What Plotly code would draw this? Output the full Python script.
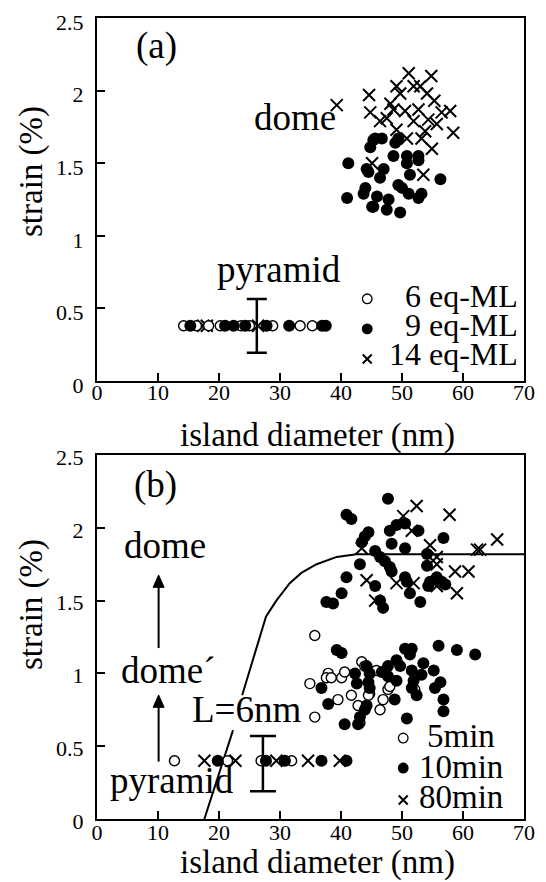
import plotly.graph_objects as go

# ---------------- data: panel (a) ----------------
a_pyr6_x = [14.2, 16.3, 18.3, 20.2, 23.6, 25.0, 28.8, 33.3, 35.3]
a_pyr6_y = [0.38] * len(a_pyr6_x)
a_pyr9_x = [15.3, 21.0, 22.4, 24.3, 27.8, 31.5, 36.9, 37.5]
a_pyr9_y = [0.38] * len(a_pyr9_x)
a_pyr14_x = [17.4, 18.0, 26.4]
a_pyr14_y = [0.38] * len(a_pyr14_x)

a_dome9_x = [41.2, 41.0, 44.8, 45.3, 46.7, 48.9, 49.4, 48.6, 50.8, 52.7, 50.8, 52.7,
             47.0, 44.5, 46.4, 51.3, 56.3, 44.0, 43.7, 49.4, 50.0, 51.1, 53.2, 45.9,
             47.8, 52.7, 45.3, 47.5, 49.7, 44.2, 45.6, 45.1]
a_dome9_y = [1.50, 1.26, 1.61, 1.66, 1.67, 1.64, 1.67, 1.55, 1.55, 1.55, 1.50, 1.52,
             1.46, 1.44, 1.40, 1.42, 1.39, 1.33, 1.29, 1.35, 1.33, 1.29, 1.29, 1.27,
             1.25, 1.26, 1.20, 1.18, 1.16, 1.46, 1.67, 1.20]
a_dome14_x = [51.1, 54.8, 39.3, 44.6, 49.1, 51.9, 53.0, 54.1, 49.7, 55.3, 48.1, 44.8,
              46.4, 48.6, 50.5, 52.7, 54.3, 56.5, 57.9, 58.4, 55.7, 53.8, 51.9, 49.1,
              50.8, 54.9, 45.1, 53.5, 47.5, 53.2]
a_dome14_y = [2.12, 2.10, 1.90, 1.97, 2.03, 2.03, 2.03, 1.98, 1.98, 1.93, 1.91, 1.85,
              1.79, 1.87, 1.86, 1.87, 1.80, 1.85, 1.86, 1.71, 1.77, 1.72, 1.79, 1.73,
              1.67, 1.60, 1.50, 1.42, 1.81, 1.67]

a_err_x = [26.2]
a_err_y = [0.38]
a_err = [0.185]

# ---------------- data: panel (b) ----------------
b_5_x = [12.7, 21.4, 26.9, 31.9,
         35.7, 37.9, 37.6, 38.4, 40.1, 40.6, 43.4, 45.8, 34.9, 39.5, 41.7, 42.8, 44.7,
         44.5, 46.4, 46.9, 47.7, 48.0, 52.1, 35.7, 43.1, 43.9]
b_5_y = [0.40, 0.40, 0.40, 0.40,
         1.26, 1.00, 0.97, 0.97, 0.97, 1.01, 1.08, 1.02, 0.93, 0.82, 0.85, 0.78, 0.86,
         0.85, 0.75, 0.82, 0.89, 0.91, 0.89, 0.70, 0.66, 1.05]

b_10_x = [19.8, 27.7, 30.8, 36.8, 40.9,
          39.3, 40.1, 36.8, 37.9, 40.6, 42.8, 43.1, 43.9, 44.2, 42.3, 42.6, 44.2, 44.7,
          44.5, 44.7, 47.7, 47.7, 49.1, 49.1, 48.8, 50.5, 51.6, 51.3, 49.7, 51.6, 51.9,
          51.6, 52.4, 53.5, 53.2, 55.2, 56.0, 59.0, 62.0, 56.3, 55.4, 56.8, 56.8, 50.8,
          46.7,
          47.7, 40.9, 41.7, 44.5, 43.9, 43.4, 48.0, 49.1, 50.5, 52.7, 56.8, 48.3, 50.5,
          45.6, 46.4, 47.2, 48.0, 48.3, 43.1, 54.1, 54.1, 40.9, 50.5, 50.8, 45.6, 51.3,
          53.0, 54.6, 54.3, 56.5, 57.1, 40.1, 37.6, 38.7, 46.4, 46.9, 55.7]
b_10_y = [0.40, 0.40, 0.40, 0.40, 0.40,
          1.16, 1.14, 0.90, 0.79, 0.65, 0.65, 0.70, 0.75, 0.78, 1.00, 0.93, 1.05, 1.00,
          0.94, 0.90, 1.05, 0.98, 1.09, 0.95, 0.82, 1.17, 1.17, 1.13, 1.05, 1.02, 0.95,
          0.90, 0.85, 1.07, 0.99, 1.02, 1.19, 1.16, 1.13, 0.94, 0.90, 0.82, 0.74, 0.69,
          1.01,
          2.20, 2.09, 2.06, 1.97, 1.94, 1.90, 1.98, 2.02, 2.03, 1.98, 1.93, 1.89, 1.86,
          1.84, 1.80, 1.77, 1.73, 1.70, 1.75, 1.82, 1.74, 1.66, 1.66, 1.63, 1.60, 1.55,
          1.49, 1.63, 1.60, 1.63, 1.61, 1.55, 1.49, 1.48, 1.50, 1.45, 1.66]

b_80_x = [17.6, 22.7, 29.4, 34.6, 39.8,
          52.4, 50.2, 57.8, 65.6, 62.3, 62.8, 51.6, 43.4, 54.6, 55.7, 55.7, 58.7, 60.9,
          44.2, 49.1, 51.9, 59.0, 45.6, 55.7]
b_80_y = [0.40, 0.40, 0.40, 0.40, 0.40,
          2.15, 2.08, 2.09, 1.92, 1.85, 1.85, 1.98, 1.86, 1.88, 1.80, 1.75, 1.70, 1.70,
          1.64, 1.62, 1.62, 1.55, 1.50, 1.60]

b_err_x = [27.2]
b_err_y = [0.38]
b_err = [0.19]

curve_x = [17.6, 20.0, 22.3, None, 23.8, 26.6, 27.7, 29.4, 31.6, 33.5, 36.0, 39.3, 42.5, 70.0]
curve_y = [0.0, 0.31, 0.61, None, 0.85, 1.25, 1.39, 1.50, 1.62, 1.69, 1.75, 1.80, 1.818, 1.818]

x_ticks = [0, 10, 20, 30, 40, 50, 60, 70]
x_tick_text = ["0", "10", "20", "30", "40", "50", "60", "70"]
y_ticks = [0, 0.5, 1, 1.5, 2, 2.5]
y_tick_text = ["0", "0.5", "1", "1.5", "2", "2.5"]

# ---------------- figure ----------------
FONT = "Liberation Serif, Times New Roman, serif"
OFF = 8                      # page body margin offset
W, H = 546 - OFF, 882 - OFF
ML, MR, MT, MB = 97 - OFF, 22, 18 - OFF, 63
PW, PH = W - ML - MR, H - MT - MB
PLOT_L, PLOT_B = 97, 819     # screen pixel of plot-area left / bottom


def P(px, py):
    return (px - PLOT_L) / PW, (PLOT_B - py) / PH


fig = go.Figure()

open_marker = dict(symbol="circle", size=10, color="white", line=dict(color="black", width=1.4))
fill_marker = dict(symbol="circle", size=12, color="black", line=dict(color="black", width=0))
x_marker = dict(symbol="x-thin", size=12, color="black", line=dict(color="black", width=2))

# panel (a)
fig.add_trace(go.Scatter(x=a_err_x, y=a_err_y, mode="markers", marker=dict(size=1, opacity=0),
                         error_y=dict(type="data", array=a_err, color="black", thickness=2.5, width=10),
                         xaxis="x", yaxis="y", showlegend=False))
fig.add_trace(go.Scatter(x=a_pyr14_x + a_dome14_x, y=a_pyr14_y + a_dome14_y, mode="markers",
                         marker=x_marker, xaxis="x", yaxis="y", name="14 eq-ML", showlegend=False))
fig.add_trace(go.Scatter(x=a_pyr6_x, y=a_pyr6_y, mode="markers",
                         marker=open_marker, xaxis="x", yaxis="y", name="6 eq-ML", showlegend=False))
fig.add_trace(go.Scatter(x=a_pyr9_x + a_dome9_x, y=a_pyr9_y + a_dome9_y, mode="markers",
                         marker=fill_marker, xaxis="x", yaxis="y", name="9 eq-ML", showlegend=False))

# panel (b)
fig.add_trace(go.Scatter(x=b_err_x, y=b_err_y, mode="markers", marker=dict(size=1, opacity=0),
                         error_y=dict(type="data", array=b_err, color="black", thickness=2.5, width=13),
                         xaxis="x2", yaxis="y2", showlegend=False))
fig.add_trace(go.Scatter(x=curve_x, y=curve_y, mode="lines", line=dict(color="black", width=2),
                         connectgaps=False, xaxis="x2", yaxis="y2", showlegend=False))
fig.add_trace(go.Scatter(x=b_5_x, y=b_5_y, mode="markers", marker=open_marker,
                         xaxis="x2", yaxis="y2", name="5min", showlegend=False))
fig.add_trace(go.Scatter(x=b_10_x, y=b_10_y, mode="markers", marker=fill_marker,
                         xaxis="x2", yaxis="y2", name="10min", showlegend=False))
fig.add_trace(go.Scatter(x=b_80_x, y=b_80_y, mode="markers", marker=x_marker,
                         xaxis="x2", yaxis="y2", name="80min", showlegend=False))

axis_common = dict(showgrid=False, zeroline=False, showline=True, linecolor="black", linewidth=2,
                   mirror=True, ticks="inside", ticklen=8, tickwidth=2, tickcolor="black",
                   ticklabeloverflow="allow",
                   tickfont=dict(family=FONT, size=22, color="black"))

ya_dom = [(PLOT_B - 381) / PH, 1.0]
yb_dom = [0.0, (PLOT_B - 455) / PH]

fig.update_layout(
    width=W, height=H,
    margin=dict(l=ML, r=MR, t=MT, b=MB, autoexpand=False),
    paper_bgcolor="white", plot_bgcolor="white",
    font=dict(family=FONT, color="black"),
    xaxis=dict(domain=[0, 1], range=[0, 70], anchor="y", tickvals=x_ticks, ticktext=x_tick_text,
               ticklabelstandoff=-9, **axis_common),
    yaxis=dict(domain=ya_dom, range=[0, 2.5], anchor="x", tickvals=y_ticks, ticktext=y_tick_text,
               ticklabelstandoff=7, ticklabelshift=4, **axis_common),
    xaxis2=dict(domain=[0, 1], range=[0, 70], anchor="y2", tickvals=x_ticks, ticktext=x_tick_text,
                ticklabelstandoff=-7, **axis_common),
    yaxis2=dict(domain=yb_dom, range=[0, 2.5], anchor="x2", tickvals=y_ticks, ticktext=y_tick_text,
                ticklabelstandoff=7, ticklabelshift=2, **axis_common),
    showlegend=False,
)

annots = []


def txt(text, px, py, size, xanchor="center", angle=0):
    x, y = P(px, py)
    annots.append(dict(text=text, x=x, y=y, xref="paper", yref="paper", showarrow=False,
                       xanchor=xanchor, yanchor="middle", textangle=angle,
                       font=dict(family=FONT, size=size, color="black")))


# panel (a) texts
txt("(a)", 156, 46, 37)
txt("dome", 295, 118, 37)
txt("pyramid", 279, 269, 37)
txt("6 eq-ML", 520, 296, 32, xanchor="right")
txt("9 eq-ML", 520, 325, 32, xanchor="right")
txt("14 eq-ML", 520, 354, 32, xanchor="right")
txt("island diameter (nm)", 317, 436, 33)
txt("strain (%)", 31, 172, 33, angle=-90)

# panel (b) texts
txt("(b)", 155, 485, 37)
txt("dome", 165, 545, 37)
txt("dome\u00b4", 168, 670, 37)
txt("L=6nm", 246, 709, 37)
txt("pyramid", 172, 780, 37)
txt("5min", 461, 736, 33)
txt("10min", 461, 767, 33)
txt("80min", 461, 797, 33)
txt("island diameter (nm)", 317, 863, 33)
txt("strain (%)", 31, 605, 33, angle=-90)

fig.update_layout(annotations=annots)

shapes = []


def key_circle(xr, yr, xa, ya, filled, r=4.8):
    shapes.append(dict(type="circle", xref=xr, yref=yr, xsizemode="pixel", ysizemode="pixel",
                       xanchor=xa, yanchor=ya, x0=-r, x1=r, y0=-r, y1=r,
                       line=dict(color="black", width=1.3), fillcolor="black" if filled else "white"))


def key_x(xr, yr, xa, ya, r=4.5):
    shapes.append(dict(type="path", xref=xr, yref=yr, xsizemode="pixel", ysizemode="pixel",
                       xanchor=xa, yanchor=ya,
                       path=f"M{-r},{-r}L{r},{r}M{-r},{r}L{r},{-r}",
                       line=dict(color="black", width=2)))


# legend keys (a)
key_circle("x", "y", 44.3, 0.566, False)
key_circle("x", "y", 44.3, 0.359, True)
key_x("x", "y", 44.3, 0.152)
# legend keys (b)
key_circle("x2", "y2", 50.2, 0.556, False)
key_circle("x2", "y2", 50.2, 0.350, True)
key_x("x2", "y2", 50.2, 0.130)


# arrows in panel (b)
def arrow(x, y_tip, y_tail, head_h=0.085, head_w=0.9):
    shapes.append(dict(type="line", xref="x2", yref="y2", x0=x, x1=x, y0=y_tail, y1=y_tip - head_h * 0.5,
                       line=dict(color="black", width=2)))
    shapes.append(dict(type="path", xref="x2", yref="y2",
                       path=f"M{x},{y_tip} L{x - head_w},{y_tip - head_h} L{x + head_w},{y_tip - head_h} Z",
                       fillcolor="black", line=dict(color="black", width=1)))


arrow(10.1, 1.676, 1.174)
arrow(10.1, 0.852, 0.394)

fig.update_layout(shapes=shapes)

fig.write_html("out.html")
